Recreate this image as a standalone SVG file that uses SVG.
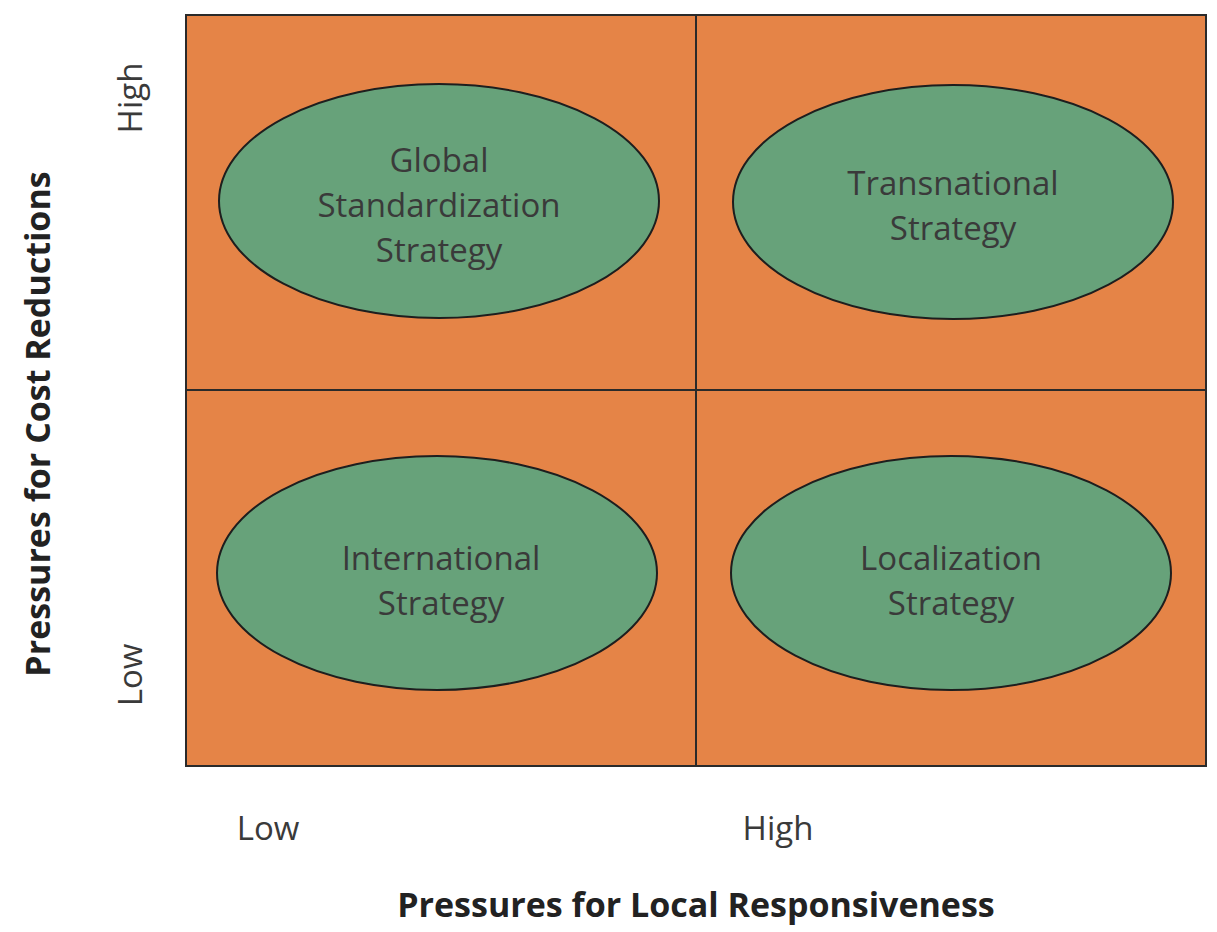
<svg xmlns="http://www.w3.org/2000/svg" width="1217" height="932" viewBox="0 0 1217 932">
<style>
.q{fill:#e58447;stroke:#2a2a2a;stroke-width:2}
.e{fill:#67a27a;stroke:#1e1e1e;stroke-width:2}
.t{font-family:"Open Sans","Liberation Sans",sans-serif;font-size:33px;fill:#3a3a3a;text-anchor:middle}
.b{font-family:"Open Sans","Liberation Sans",sans-serif;font-size:34px;font-weight:bold;fill:#222;text-anchor:middle}
</style>
<rect width="1217" height="932" fill="#fff"/>
<g id="grid">
<rect class="q" x="186" y="15" width="1020" height="751"/>
<line x1="696" y1="15" x2="696" y2="766" stroke="#2a2a2a" stroke-width="2"/>
<line x1="186" y1="390" x2="1206" y2="390" stroke="#2a2a2a" stroke-width="2"/>
</g>
<g id="global"><ellipse class="e" cx="439" cy="201" rx="220" ry="117"/>
<text class="t" x="439" y="172">Global</text><text class="t" x="439" y="217">Standardization</text><text class="t" x="439" y="262">Strategy</text></g>
<g id="transnational"><ellipse class="e" cx="953" cy="202" rx="220" ry="117"/>
<text class="t" x="953" y="195">Transnational</text><text class="t" x="953" y="240">Strategy</text></g>
<g id="international"><ellipse class="e" cx="437" cy="573" rx="220" ry="117"/>
<text class="t" x="441" y="570">International</text><text class="t" x="441" y="615">Strategy</text></g>
<g id="localization"><ellipse class="e" cx="951" cy="573" rx="220" ry="117"/>
<text class="t" x="951" y="570">Localization</text><text class="t" x="951" y="615">Strategy</text></g>
<g id="labels">
<text class="t" x="268" y="840">Low</text>
<text class="t" x="778" y="840">High</text>
<text class="b" x="696" y="917">Pressures for Local Responsiveness</text>
<text class="t" transform="translate(142,98) rotate(-90)">High</text>
<text class="t" transform="translate(142,675) rotate(-90)">Low</text>
<text class="b" transform="translate(50,424) rotate(-90)">Pressures for Cost Reductions</text>
</g>
</svg>
